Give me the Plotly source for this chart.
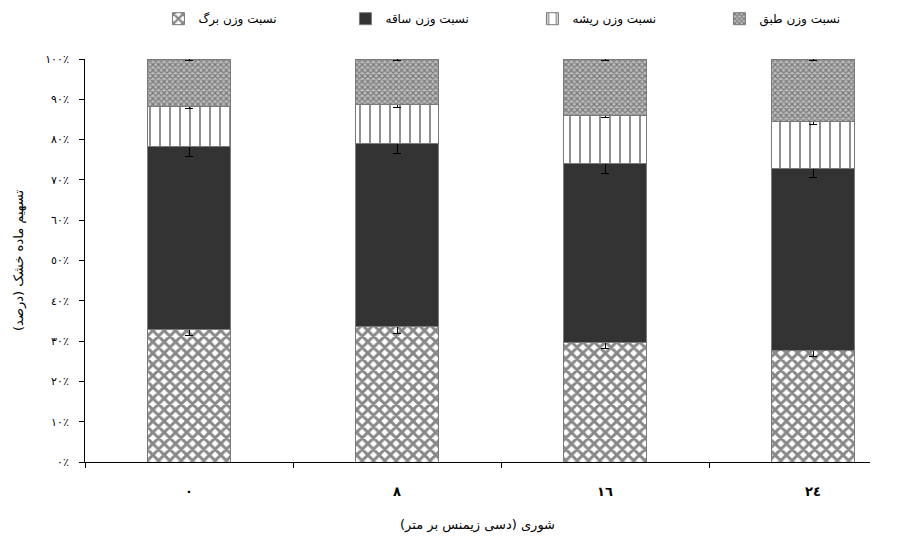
import plotly.graph_objects as go

# categories (salinity, dS/m) in Arabic-Indic digits
categories = ["٠", "٨", "١٦", "٢٤"]

# series (percent of dry matter)
leaf = [32.8, 33.7, 29.6, 27.6]
stem = [45.4, 45.4, 44.5, 45.3]
root = [10.0, 9.5, 12.0, 11.5]
tray = [11.8, 11.4, 13.9, 15.6]

leaf_err = [1.5, 1.8, 1.5, 1.5]
stem_err = [2.4, 2.5, 2.4, 2.3]
root_err = [0.6, 0.6, 0.7, 0.6]
tray_err = [0.3, 0.3, 0.3, 0.3]

names = ["نسبت وزن برگ", "نسبت وزن ساقه", "نسبت وزن ریشه", "نسبت وزن طبق"]

y_tickvals = [0, 10, 20, 30, 40, 50, 60, 70, 80, 90, 100]
y_ticktext = ["٠٪", "١٠٪", "٢٠٪", "٣٠٪", "٤٠٪", "٥٠٪", "٦٠٪", "٧٠٪", "٨٠٪", "٩٠٪", "١٠٠٪"]

x_title = "شوری (دسی زیمنس بر متر)"
y_title = "تسهیم ماده خشک (درصد)"

FONT = "DejaVu Sans"
outline = dict(color="#7a7a7a", width=1)

def err(vals):
    return dict(type="data", array=vals, visible=True, color="black", thickness=1, width=4)

fig = go.Figure()
fig.add_trace(go.Bar(
    x=categories, y=leaf, name=names[0], error_y=err(leaf_err),
    marker=dict(color="white", line=outline,
                pattern=dict(shape="x", fgcolor="#111111", bgcolor="white", size=8, solidity=0.6)),
))
fig.add_trace(go.Bar(
    x=categories, y=stem, name=names[1], error_y=err(stem_err),
    marker=dict(color="#333333", line=outline),
))
fig.add_trace(go.Bar(
    x=categories, y=root, name=names[2], error_y=err(root_err),
    marker=dict(color="white", line=outline,
                pattern=dict(shape="|", fgcolor="#222222", bgcolor="white", size=10, solidity=0.2)),
))
fig.add_trace(go.Bar(
    x=categories, y=tray, name=names[3], error_y=err(tray_err),
    marker=dict(color="white", line=outline,
                pattern=dict(shape="x", fgcolor="#333333", bgcolor="#bdbdbd", size=4, solidity=0.5)),
))

fig.update_layout(
    barmode="stack",
    bargap=0.6,
    width=912, height=537,
    margin=dict(l=77, r=50, t=51, b=83, autoexpand=False),
    paper_bgcolor="white", plot_bgcolor="white",
    font=dict(family=FONT, size=11, color="black"),
    showlegend=True,
    legend=dict(
        orientation="h", x=0.57, xanchor="center", y=1.1, yanchor="middle",
        traceorder="normal", entrywidth=142, entrywidthmode="pixels",
        font=dict(family=FONT, size=12, color="black"),
    ),
    xaxis=dict(
        type="category", range=[-0.5, 3.274],
        showline=True, linecolor="black", linewidth=1,
        ticks="outside", tickson="boundaries", ticklen=5, tickcolor="black",
        tickfont=dict(family=FONT, size=13, color="black", weight="bold"),
        ticklabelstandoff=17,
        title=dict(text=x_title, font=dict(family=FONT, size=13, color="black"), standoff=22),
        showgrid=False, zeroline=False,
    ),
    yaxis=dict(
        range=[0, 100],
        tickvals=y_tickvals, ticktext=y_ticktext,
        showline=True, linecolor="black", linewidth=1,
        ticks="outside", ticklen=5, tickcolor="black",
        tickfont=dict(family=FONT, size=11, color="black"),
        ticklabelstandoff=8,
        title=dict(text=y_title, font=dict(family=FONT, size=13, color="black"), standoff=18),
        showgrid=False, zeroline=False,
    ),
)

fig.write_html("out.html")
